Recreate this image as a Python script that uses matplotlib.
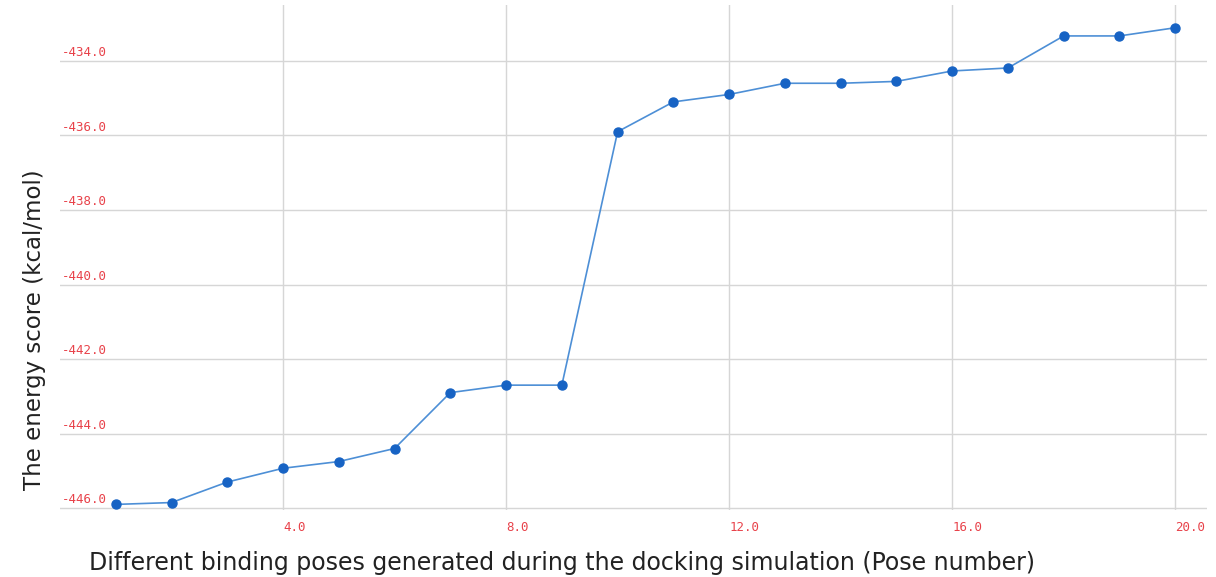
import matplotlib
matplotlib.use("Agg")
import matplotlib.pyplot as plt

# pose number vs docking energy score (kcal/mol)
poses = list(range(1, 21))
energy = [-445.9, -445.85, -445.3, -444.93, -444.75, -444.4, -442.9, -442.7, -442.7,
          -435.9, -435.1, -434.9, -434.6, -434.6, -434.55, -434.27, -434.19,
          -433.33, -433.33, -433.11]
xticks = [4, 8, 12, 16, 20]
yticks = [-446, -444, -442, -440, -438, -436, -434]

RED, GRID, LINE, DOT = "#e8424a", "#d6d6d6", "#4d8fd6", "#1763c4"
plt.rcParams["font.family"] = ["DejaVu Sans"]

fig = plt.figure(figsize=(12.16, 5.77), dpi=100)
ax = fig.add_axes([60 / 1216, 1 - 510 / 577, 1147 / 1216, 505 / 577])
ax.plot(poses, energy, "-", color=LINE, lw=1.2, zorder=3)
ax.plot(poses, energy, "o", color=DOT, ms=6.5, zorder=4)

ax.set_xlim(0, 20.57)
ax.set_ylim(-446.05, -432.5)
ax.set_xticks(xticks)
ax.set_yticks(yticks)
ax.grid(True, color=GRID, lw=1.0, zorder=0)
for s in ax.spines.values():
    s.set_visible(False)
ax.tick_params(length=0)
ax.set_xticklabels([f"{v:.1f}" for v in xticks], color=RED, fontsize=9,
                   family="DejaVu Sans Mono", ha="left")
ax.tick_params(axis="x", pad=8)
ax.set_yticklabels([])
for v in yticks:
    ax.text(0.002, v + 0.05, f"{v:.1f}", transform=ax.get_yaxis_transform(),
            color=RED, fontsize=9, family="DejaVu Sans Mono", ha="left", va="bottom",
            zorder=2)

fig.text(35 / 1216, 1 - 330 / 577, "The energy score (kcal/mol)", rotation=90,
         ha="center", va="center", fontsize=16.5, color="#222222")
fig.text(562 / 1216, 1 - 563 / 577,
         "Different binding poses generated during the docking simulation (Pose number)",
         ha="center", va="center", fontsize=17, color="#222222")

fig.savefig("out.png", dpi=100)
